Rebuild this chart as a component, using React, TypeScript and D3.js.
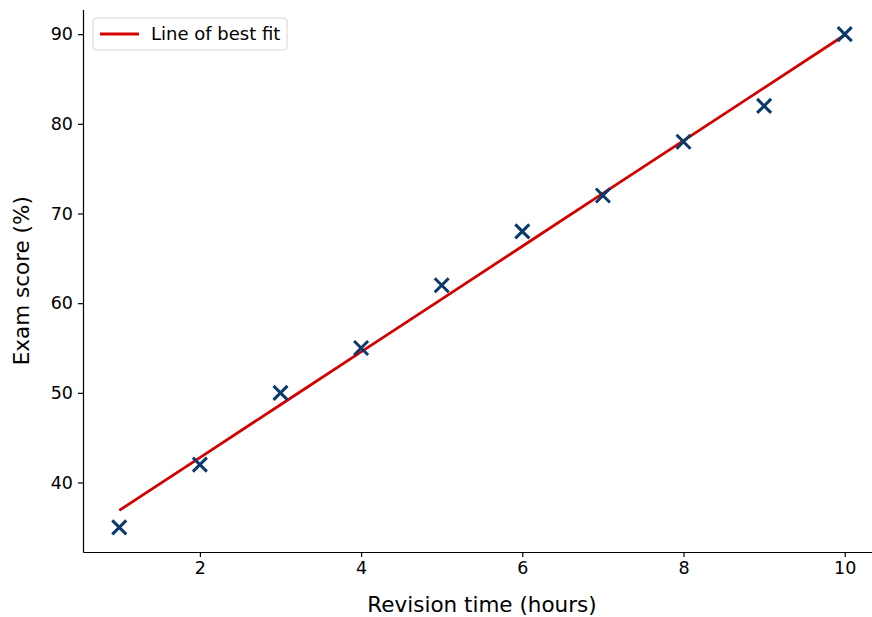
import React, { useRef, useEffect } from "react";
import * as d3 from "d3";

const hours = [1, 2, 3, 4, 5, 6, 7, 8, 9, 10];
const scores = [35, 42, 50, 55, 62, 68, 72, 78, 82, 90];
const xTicks = [2, 4, 6, 8, 10];
const yTicks = [40, 50, 60, 70, 80, 90];

const W = 872;
const H = 617;
const margin = { left: 83, top: 9.5, right: 881, bottom: 552 };

function App() {
  const svgRef = useRef<SVGSVGElement>(null);

  useEffect(() => {
    const svg = d3.select(svgRef.current);
    svg.selectAll("*").remove();
    const font = "'DejaVu Sans', sans-serif";

    // least squares fit
    const mx = d3.mean(hours)!;
    const my = d3.mean(scores)!;
    let sxy = 0;
    let sxx = 0;
    hours.forEach((h, i) => {
      sxy += (h - mx) * (scores[i] - my);
      sxx += (h - mx) * (h - mx);
    });
    const slope = sxy / sxx;
    const icpt = my - slope * mx;
    const fit = hours.map((h) => [h, icpt + slope * h] as [number, number]);

    const xPad = (d3.max(hours)! - d3.min(hours)!) * 0.05;
    const yMin = d3.min([...scores, ...fit.map((d) => d[1])])!;
    const yMax = d3.max([...scores, ...fit.map((d) => d[1])])!;
    const yPad = (yMax - yMin) * 0.05;

    const x = d3
      .scaleLinear()
      .domain([d3.min(hours)! - xPad, d3.max(hours)! + xPad])
      .range([margin.left, margin.right]);
    const y = d3
      .scaleLinear()
      .domain([yMin - yPad, yMax + yPad])
      .range([margin.bottom, margin.top]);

    const styleAxis = (ax: any) => {
      ax.attr("font-family", null).attr("font-size", null);
      ax.select(".domain").attr("stroke", "#000").attr("stroke-width", 1.2);
      ax.selectAll(".tick line").attr("stroke", "#000").attr("stroke-width", 1.2);
      ax.selectAll(".tick text")
        .style("font-family", font)
        .style("font-size", "17.5px")
        .attr("fill", "#000");
    };

    // x axis
    const xAxis = svg
      .append("g")
      .attr("transform", `translate(0,${margin.bottom})`)
      .call(d3.axisBottom(x).tickValues(xTicks).tickSize(5).tickPadding(5).tickSizeOuter(0));
    styleAxis(xAxis);

    const yAxis = svg
      .append("g")
      .attr("transform", `translate(${margin.left},0)`)
      .call(d3.axisLeft(y).tickValues(yTicks).tickSize(5).tickPadding(5).tickSizeOuter(0));
    styleAxis(yAxis);

    // axis labels
    svg
      .append("text")
      .attr("x", (margin.left + margin.right) / 2)
      .attr("y", 612)
      .attr("text-anchor", "middle")
      .style("font-family", font)
      .style("font-size", "21.5px")
      .text("Revision time (hours)");
    svg
      .append("text")
      .attr("transform", `translate(29,${(margin.top + margin.bottom) / 2}) rotate(-90)`)
      .attr("text-anchor", "middle")
      .style("font-family", font)
      .style("font-size", "21.5px")
      .text("Exam score (%)");

    // fit line
    svg
      .append("path")
      .datum(fit)
      .attr("fill", "none")
      .attr("stroke", "#d40000")
      .attr("stroke-width", 2.8)
      .attr("d", d3.line().x((d) => x(d[0])).y((d) => y(d[1])));

    // markers
    const s = 7;
    const g = svg.append("g");
    hours.forEach((h, i) => {
      const cx = x(h);
      const cy = y(scores[i]);
      g.append("path")
        .attr("d", `M${cx - s},${cy - s}L${cx + s},${cy + s}M${cx - s},${cy + s}L${cx + s},${cy - s}`)
        .attr("stroke", "#0a3a6b")
        .attr("stroke-width", 3)
        .attr("fill", "none");
    });

    // legend
    const lg = svg.append("g").attr("transform", "translate(93,18)");
    lg.append("rect")
      .attr("width", 194)
      .attr("height", 32)
      .attr("rx", 3)
      .attr("fill", "#fff")
      .attr("fill-opacity", 0.8)
      .attr("stroke", "#d6d6d6")
      .attr("stroke-width", 1);
    lg.append("line")
      .attr("x1", 7)
      .attr("x2", 46)
      .attr("y1", 16)
      .attr("y2", 16)
      .attr("stroke", "#d40000")
      .attr("stroke-width", 2.8);
    lg.append("text")
      .attr("x", 58)
      .attr("y", 22)
      .style("font-family", font)
      .style("font-size", "18px")
      .text("Line of best fit");
  }, []);

  return (
    <div
      style={{
        position: "fixed",
        left: 0,
        top: 0,
        width: W,
        height: H,
        overflow: "hidden",
        background: "#fff",
      }}
    >
      <svg ref={svgRef} width={W} height={H} style={{ display: "block" }}></svg>
    </div>
  );
}

export default App;
